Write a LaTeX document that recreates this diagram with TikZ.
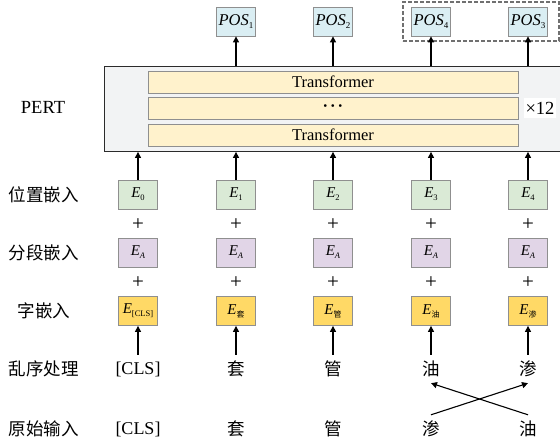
\documentclass[tikz,border=0pt]{standalone}
\usepackage{fontspec}
\setmainfont{Liberation Serif}
\newfontfamily\cjk{Noto Sans CJK SC}
\usetikzlibrary{arrows.meta}
\newcommand\fs[1]{\fontsize{#1}{#1}\selectfont}
\newcommand\Emb[1]{\textit{E}\raisebox{-0.45ex}{\fs{8.5}#1}}
\newcommand\Pos[1]{\textit{POS}\raisebox{-0.45ex}{\fs{9}#1}}
\newcommand\dotsrow{\textbf{·\kern2pt·\kern2pt·}}
\definecolor{posfill}{HTML}{DAEEF3}
\definecolor{tfill}{HTML}{FFF2CC}
\definecolor{outfill}{HTML}{F2F3F4}
\definecolor{outline}{HTML}{2B2B2B}
\definecolor{boxline}{HTML}{8F8F8F}
\definecolor{pfill}{HTML}{DAEAD6}
\definecolor{afill}{HTML}{E1D5E7}
\definecolor{wfill}{HTML}{FFD966}
\definecolor{dashgray}{HTML}{707070}
\begin{document}
\begin{tikzpicture}[x=1pt,y=-1pt,
  embox/.style={draw=boxline, line width=0.8pt, minimum width=39pt, minimum height=29pt, inner sep=0pt, font=\fs{15}},
  posbox/.style={embox, fill=posfill, font=\fs{16.5}},
  pbox/.style={embox, fill=pfill},
  abox/.style={embox, fill=afill},
  wbox/.style={embox, fill=wfill},
  tbox/.style={draw=boxline, fill=tfill, line width=0.8pt, minimum width=370pt, minimum height=22pt, inner sep=0pt, font=\fs{16.5}},
  lbl/.style={font=\cjk\fs{17.5}, inner sep=0pt},
  txt/.style={font=\fs{18}, inner sep=0pt, minimum height=28pt},
  ctxt/.style={txt, font=\cjk\fs{17.5}},
  plus/.style={font=\fs{21}, inner sep=0pt},
  arr/.style={line width=1.1pt, -{Triangle[width=6pt,length=6pt]}}
]
\useasboundingbox (0,0) rectangle (560,442);

% PERT block
\node[draw=outline, fill=outfill, line width=1.2pt, minimum width=470pt, minimum height=85pt, anchor=north west, inner sep=0pt] (pert) at (104,65.7) {};
\node[tbox] (t1) at (333,82) {Transformer};
\node[tbox] (t2) at (333,108) {\dotsrow};
\node[tbox] (t3) at (333,135) {Transformer};
\node[fill=white, font=\fs{18.5}, inner sep=1.5pt, minimum height=20pt] (x12) at (540,108) {×12};
\node[font=\fs{18.5}, inner sep=0pt] (pertlbl) at (43,107) {PERT};

% POS outputs
\node[posbox] (q1) at (236,21.5) {\Pos{1}};
\node[posbox] (q2) at (333,21.5) {\Pos{2}};
\node[posbox] (q4) at (431,21.5) {\Pos{4}};
\node[posbox] (q3) at (528,21.5) {\Pos{3}};
\node[draw=dashgray, dash pattern=on 4pt off 2pt, line width=1.1pt, minimum width=156pt, minimum height=39pt, inner sep=0pt] (grp) at (481,21.5) {};
\foreach \q in {q1,q2,q4,q3}
  \draw[arr] (\q.south |- pert.north) -- (\q.south);

% embeddings
\foreach \x [count=\i from 0] in {138,236,333,431,528} {
  \node[pbox] (p\i) at (\x,194.5) {\Emb{\i}};
  \node[plus] (pa\i) at (\x,225) {+};
  \node[abox] (a\i) at (\x,252.5) {\Emb{\textit{A}}};
  \node[plus] (pb\i) at (\x,283) {+};
  \draw[arr] (p\i.north) -- (p\i.north |- pert.south);
}
\node[wbox] (w0) at (138,311) {\Emb{\fs{8.5}[CLS]}};
\node[wbox] (w1) at (236,311) {\Emb{\cjk\fs{8}套}};
\node[wbox] (w2) at (333,311) {\Emb{\cjk\fs{8}管}};
\node[wbox] (w3) at (431,311) {\Emb{\cjk\fs{8}油}};
\node[wbox] (w4) at (528,311) {\Emb{\cjk\fs{8}渗}};

% shuffled row
\node[txt] (s0) at (138,369) {[CLS]};
\node[ctxt] (s1) at (236,369) {套};
\node[ctxt] (s2) at (333,369) {管};
\node[ctxt] (s3) at (431,369) {油};
\node[ctxt] (s4) at (528,369) {渗};
% original row
\node[txt] (o0) at (138,429) {[CLS]};
\node[ctxt] (o1) at (236,429) {套};
\node[ctxt] (o2) at (333,429) {管};
\node[ctxt] (o3) at (431,429) {渗};
\node[ctxt] (o4) at (528,429) {油};

\foreach \i in {0,...,4}
  \draw[arr] (s\i.north) -- (w\i.south);
\draw[arr] (o3.north) -- (s4.south);
\draw[arr] (o4.north) -- (s3.south);

% row labels
\node[lbl] (l1) at (44,194.5) {位置嵌入};
\node[lbl] (l2) at (44,252.5) {分段嵌入};
\node[lbl] (l3) at (44,311) {字嵌入};
\node[lbl] (l4) at (44,369) {乱序处理};
\node[lbl] (l5) at (44,429) {原始输入};
\end{tikzpicture}
\end{document}
